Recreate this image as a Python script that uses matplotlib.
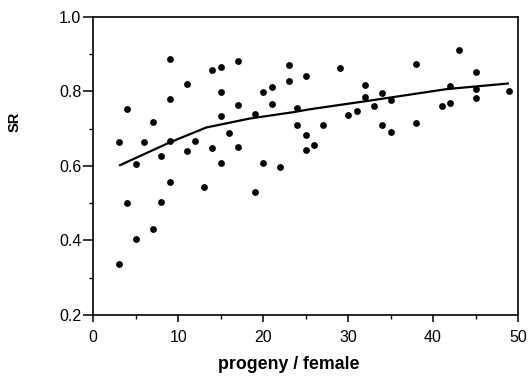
import matplotlib
matplotlib.use('Agg')
import matplotlib.pyplot as plt
from matplotlib.ticker import MultipleLocator, FormatStrFormatter

plt.rcParams['font.family'] = ['Liberation Sans', 'DejaVu Sans']

# progeny per female vs sex ratio
progeny = [3, 3, 4, 4, 5, 5, 6, 7, 7, 8, 8, 9, 9, 9, 9,
           11, 11, 12, 13, 14, 14, 15, 15, 15, 15, 16, 17, 17, 17,
           19, 19, 20, 20, 21, 21, 22, 23, 23, 24, 24, 25, 25, 25,
           26, 27, 29, 30, 31, 32, 32, 33, 34, 34, 35, 35, 38, 38,
           41, 42, 42, 43, 45, 45, 45, 49]
sr = [0.665, 0.337, 0.752, 0.501, 0.606, 0.404, 0.665, 0.718, 0.431,
      0.626, 0.502, 0.558, 0.668, 0.779, 0.886,
      0.819, 0.640, 0.666, 0.543, 0.856, 0.647, 0.866, 0.799, 0.735, 0.607,
      0.687, 0.882, 0.763, 0.652,
      0.738, 0.529, 0.799, 0.607, 0.811, 0.765, 0.598, 0.872, 0.827,
      0.754, 0.711, 0.840, 0.683, 0.643,
      0.657, 0.709, 0.863, 0.736, 0.746, 0.816, 0.785, 0.760, 0.796, 0.710,
      0.776, 0.690, 0.874, 0.716,
      0.762, 0.768, 0.815, 0.911, 0.851, 0.805, 0.783, 0.800]

# fitted curve
fit_x = [3.15, 9.0, 13.3, 18.4, 23.5, 25.5, 32.2, 41.6, 48.8]
fit_y = [0.602, 0.663, 0.703, 0.727, 0.744, 0.752, 0.774, 0.806, 0.821]

fig = plt.figure(figsize=(5.31, 3.80), dpi=100)
ax = fig.add_axes([0.1757, 0.171, 0.7998, 0.7848])

ax.plot(progeny, sr, 'o', color='black', markersize=4.9, markeredgewidth=0)
ax.plot(fit_x, fit_y, color='black', linewidth=1.6)

ax.set_xlim(0, 50)
ax.set_ylim(0.2, 1.0)
ax.xaxis.set_major_locator(MultipleLocator(10))
ax.xaxis.set_minor_locator(MultipleLocator(5))
ax.yaxis.set_major_locator(MultipleLocator(0.2))
ax.yaxis.set_minor_locator(MultipleLocator(0.1))
ax.yaxis.set_major_formatter(FormatStrFormatter('%.1f'))

for s in ax.spines.values():
    s.set_linewidth(1.2)

ax.tick_params(axis='y', which='major', direction='out', length=7, width=1.1,
               pad=1.5, labelsize=11.5)
ax.tick_params(axis='y', which='minor', direction='out', length=3, width=1.0)
ax.tick_params(axis='x', which='major', direction='out', length=5, width=1.1,
               pad=5.5, labelsize=11.5)
ax.tick_params(axis='x', which='minor', direction='out', length=3, width=1.0)

fig.text(288.9 / 531, 1 - 364.5 / 380, 'progeny / female', ha='center', va='center',
         fontsize=12.8, fontweight='bold')
fig.text(14.2 / 531, 1 - 122 / 380, 'SR', ha='center', va='center', rotation=90,
         fontsize=10.5, fontweight='bold')

fig.savefig('out.png', dpi=100)
